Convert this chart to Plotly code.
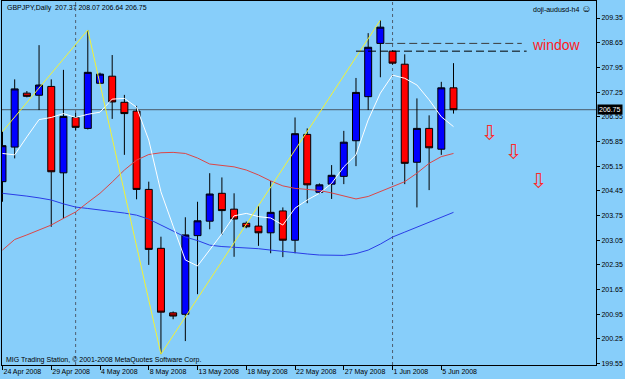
import plotly.graph_objects as go

# ---------------- data ----------------
dates = ["24 Apr 2008", "25 Apr 2008", "27 Apr 2008", "28 Apr 2008", "29 Apr 2008", "30 Apr 2008",
         "1 May 2008", "2 May 2008", "4 May 2008", "5 May 2008", "6 May 2008", "7 May 2008",
         "8 May 2008", "9 May 2008", "11 May 2008", "12 May 2008", "13 May 2008", "14 May 2008",
         "15 May 2008", "16 May 2008", "18 May 2008", "19 May 2008", "20 May 2008", "21 May 2008",
         "22 May 2008", "23 May 2008", "25 May 2008", "26 May 2008", "27 May 2008", "28 May 2008",
         "29 May 2008", "30 May 2008", "1 Jun 2008", "2 Jun 2008", "3 Jun 2008", "4 Jun 2008",
         "5 Jun 2008", "6 Jun 2008"]

opens = [204.71, 205.69, 207.22, 207.16, 207.41, 204.96, 206.53, 206.22, 207.50, 207.70,
         206.96, 206.71, 204.49, 202.82, 200.99, 200.95, 203.18, 203.59, 204.38, 203.93,
         203.53, 203.45, 203.26, 203.88, 203.05, 206.05, 204.41, 204.64, 204.86, 205.87,
         207.12, 208.63, 208.41, 208.04, 205.26, 206.22, 205.63, 207.37]
highs = [206.13, 207.61, 207.28, 208.58, 207.61, 207.88, 206.66, 209.01, 207.80, 208.30,
         207.17, 206.86, 204.71, 203.15, 201.03, 203.70, 204.14, 204.95, 204.83, 204.38,
         203.58, 204.02, 204.73, 203.98, 206.53, 206.22, 204.66, 205.18, 206.15, 207.65,
         208.92, 209.29, 208.43, 208.32, 207.07, 206.59, 207.54, 208.07]
lows = [204.14, 205.37, 207.10, 206.74, 203.43, 203.67, 206.17, 206.19, 207.48, 206.49,
        205.47, 204.21, 202.35, 199.82, 200.81, 200.19, 201.52, 203.36, 203.20, 202.58,
        203.39, 202.89, 202.68, 202.57, 202.68, 204.10, 204.36, 204.22, 204.64, 205.15,
        206.74, 207.67, 208.03, 204.64, 203.98, 204.47, 205.47, 206.64]
closes = [205.73, 207.34, 207.13, 207.45, 204.99, 206.56, 206.25, 207.81, 207.76, 206.97,
          206.64, 204.49, 202.79, 201.01, 200.90, 203.20, 203.60, 204.36, 203.89, 203.65,
          203.43, 203.26, 203.84, 203.05, 206.07, 204.62, 204.62, 204.89, 205.83, 207.24,
          208.52, 209.09, 208.07, 205.23, 206.22, 205.67, 207.37, 206.75]

ma_fast = [205.51, 205.47, 205.98, 206.47, 206.53, 206.64, 206.53, 206.62, 206.68, 207.05,
           207.07, 206.82, 205.89, 204.42, 203.45, 202.49, 202.32, 202.77, 203.23, 203.74,
           203.81, 203.72, 203.68, 203.48, 203.96, 204.19, 204.38, 204.66, 205.13, 205.47,
           206.46, 207.22, 207.73, 207.64, 207.45, 207.03, 206.55, 206.27]
ma_mid = [202.77, 203.07, 203.20, 203.34, 203.48, 203.67, 203.85, 204.12, 204.38, 204.70,
          205.04, 205.32, 205.48, 205.53, 205.54, 205.51, 205.38, 205.21, 205.18, 205.13,
          205.04, 204.90, 204.73, 204.59, 204.52, 204.49, 204.46, 204.39, 204.30, 204.22,
          204.29, 204.43, 204.59, 204.71, 204.95, 205.23, 205.42, 205.51]
ma_slow = [204.38, 204.35, 204.30, 204.25, 204.19, 204.08, 203.99, 203.95, 203.91, 203.86,
           203.82, 203.76, 203.65, 203.48, 203.31, 203.14, 203.04, 202.91, 202.87, 202.85,
           202.84, 202.81, 202.77, 202.73, 202.68, 202.66, 202.63, 202.62, 202.62, 202.67,
           202.77, 202.94, 203.14, 203.28, 203.42, 203.58, 203.71, 203.84]

zigzag_idx = [0, 7, 13, 31]
zigzag_price = [206.13, 209.01, 199.82, 209.29]

window_levels = [208.63, 208.41]
window_from = [31.4, 29.0]
window_to = [42.6, 43.0]
window_colors = ["#3c3c3c", "#000000"]

arrow_idx = [40, 42, 44]
arrow_price = [206.09, 205.55, 204.73]

month_starts = [6, 32]

price_ticks = [199.55, 200.25, 200.95, 201.65, 202.35, 203.05, 203.75, 204.45,
               205.15, 205.85, 206.55, 207.25, 207.95, 208.65, 209.35]
date_tick_idx = [0, 4, 8, 12, 16, 20, 24, 28, 32, 36]

# ---------------- figure ----------------
BG = "#87CEFA"
FONT = "Liberation Sans, Arial, sans-serif"
W, H = 625, 379
ML, MR, MT, MB = 2, 29, 1, 14
PW, PH = W - ML - MR, H - MT - MB

def px(xp):
    return (xp - ML) / PW

def py(yp):
    return 1 - (yp - MT) / PH

xs = list(range(len(dates)))

fig = go.Figure()

fig.add_trace(go.Candlestick(
    x=xs, open=opens, high=highs, low=lows, close=closes,
    increasing=dict(fillcolor="#0000ff", line=dict(color="#000000", width=1)),
    decreasing=dict(fillcolor="#ff0000", line=dict(color="#000000", width=1)),
    whiskerwidth=0, showlegend=False, hoverinfo="skip",
))

fig.add_trace(go.Scatter(x=xs, y=ma_slow, mode="lines",
                         line=dict(color="#2a3ce6", width=1), showlegend=False, hoverinfo="skip"))
fig.add_trace(go.Scatter(x=xs, y=ma_mid, mode="lines",
                         line=dict(color="#dc4646", width=1), showlegend=False, hoverinfo="skip"))
fig.add_trace(go.Scatter(x=xs, y=ma_fast, mode="lines",
                         line=dict(color="#ffffff", width=1), showlegend=False, hoverinfo="skip"))
fig.add_trace(go.Scatter(x=zigzag_idx, y=zigzag_price, mode="lines",
                         line=dict(color="#f2f236", width=1), showlegend=False, hoverinfo="skip"))

for lvl, a, b, c in zip(window_levels, window_from, window_to, window_colors):
    fig.add_trace(go.Scatter(x=[a, b], y=[lvl, lvl], mode="lines",
                             line=dict(color=c, width=1, dash="8px,4px"),
                             showlegend=False, hoverinfo="skip"))

shapes = []
for m in month_starts:
    shapes.append(dict(type="line", xref="x", yref="paper", x0=m, x1=m, y0=0, y1=1,
                       line=dict(color="#4e5e70", width=1, dash="dot"), layer="below"))
shapes.append(dict(type="line", xref="paper", yref="y", x0=0, x1=1,
                   y0=closes[-1], y1=closes[-1],
                   line=dict(color="#4a5866", width=1), layer="below"))

annotations = [
    dict(xref="paper", yref="paper", x=px(5), y=py(7.5), xanchor="left", yanchor="middle",
         text=f"GBPJPY,Daily  {opens[-1]:.2f} {highs[-1]:.2f} {lows[-1]:.2f} {closes[-1]:.2f}",
         showarrow=False, font=dict(family=FONT, size=7, color="#000000")),
    dict(xref="paper", yref="paper", x=px(593), y=py(8.5), xanchor="right", yanchor="middle",
         text="doji-audusd-h4 <span style='font-size:10px'>☺</span>", showarrow=False,
         font=dict(family=FONT, size=7, color="#000000")),
    dict(xref="paper", yref="paper", x=px(4), y=py(359.5), xanchor="left", yanchor="middle",
         text="MIG Trading Station, © 2001-2008 MetaQuotes Software Corp.", showarrow=False,
         font=dict(family=FONT, size=7, color="#000000")),
    dict(xref="paper", yref="y", x=1, y=closes[-1], xanchor="left", yanchor="middle",
         xshift=1, text=f"{closes[-1]:.2f}", showarrow=False, bgcolor="#000000",
         borderpad=1, font=dict(family=FONT, size=7, color="#ffffff")),
    dict(xref="x", yref="y", x=43.27, y=208.58, xanchor="left", yanchor="middle",
         text="window", showarrow=False,
         font=dict(family=FONT, size=14, color="#ff1a1a")),
]
for ai, ap in zip(arrow_idx, arrow_price):
    annotations.append(dict(xref="x", yref="y", x=ai, y=ap, xanchor="center", yanchor="middle",
                            text="⇩", showarrow=False,
                            font=dict(family="DejaVu Sans", size=21, color="#ff2a2a")))

fig.update_layout(
    width=W, height=H,
    margin=dict(l=ML, r=MR, t=MT, b=MB, pad=0),
    paper_bgcolor=BG, plot_bgcolor=BG,
    boxgap=0.43, boxgroupgap=0,
    shapes=shapes, annotations=annotations,
    showlegend=False,
    xaxis=dict(
        range=[-0.04, 48.69], rangeslider=dict(visible=False),
        tickmode="array", tickvals=date_tick_idx,
        ticktext=[dates[i] for i in date_tick_idx],
        ticks="outside", ticklen=4, tickcolor="#000000", tickwidth=1,
        ticklabelposition="outside right", tickangle=0,
        tickfont=dict(family=FONT, size=7, color="#000000"),
        showline=True, mirror=True, linecolor="#000000", linewidth=1,
        showgrid=False, zeroline=False, fixedrange=True,
    ),
    yaxis=dict(
        side="right", range=[199.512, 209.832],
        tickmode="array", tickvals=price_ticks,
        ticktext=[f"{v:.2f}" for v in price_ticks],
        ticks="outside", ticklen=3, tickcolor="#000000", tickwidth=1,
        tickfont=dict(family=FONT, size=7, color="#000000"),
        showline=True, mirror=True, linecolor="#000000", linewidth=1,
        showgrid=False, zeroline=False, fixedrange=True,
    ),
)

fig.write_html("out.html", config={"displayModeBar": False})
